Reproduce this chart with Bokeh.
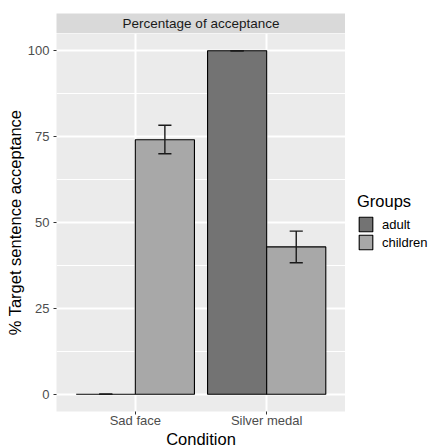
from bokeh.plotting import figure
from bokeh.models import Range1d, FixedTicker, ColumnDataSource, Legend, LegendItem, Label
from bokeh.layouts import column, row
from bokeh.embed import file_html
from bokeh.resources import INLINE

# ---- data ----
categories = ["Sad face", "Silver medal"]
groups = ["adult", "children"]
adult_mean = [0.0, 100.0]
adult_lower = [0.0, 100.0]
adult_upper = [0.0, 100.0]
children_mean = [74.1, 42.9]
children_lower = [70.0, 38.3]
children_upper = [78.3, 47.5]
y_ticks = [0, 25, 50, 75, 100]
y_minor = [12.5, 37.5, 62.5, 87.5]
group_colors = ["#737373", "#A8A8A8"]

# ---- style / layout ----
FONT = "Liberation Sans"
LEFT = 56
PANEL_W = 289
COL_W = LEFT + PANEL_W
LEG_W = 430 - COL_W
STRIP_TOP = 13
STRIP_H = 20
FRAME_H = 379
MAIN_BOTTOM = 18
COND_H = 17
TOTAL_H = STRIP_TOP + STRIP_H + FRAME_H + MAIN_BOTTOM + COND_H
DODGE = 0.225
BAR_W = 0.45
CAP = 0.05

x_range = Range1d(0.4, 2.6)
y_range = Range1d(-5, 105)

p = figure(width=COL_W, height=FRAME_H + MAIN_BOTTOM, x_range=x_range, y_range=y_range,
           output_backend="svg", toolbar_location=None,
           min_border_left=LEFT, min_border_right=0,
           min_border_top=0, min_border_bottom=MAIN_BOTTOM)
p.background_fill_color = "#EBEBEB"
p.border_fill_color = "white"
p.outline_line_color = None

cat_pos = [i + 1 for i in range(len(categories))]
p.xaxis.ticker = FixedTicker(ticks=cat_pos)
p.xaxis.major_label_overrides = {pos: c for pos, c in zip(cat_pos, categories)}
p.yaxis.ticker = FixedTicker(ticks=y_ticks, minor_ticks=y_minor)
p.xgrid.ticker = FixedTicker(ticks=cat_pos)
p.ygrid.ticker = FixedTicker(ticks=y_ticks, minor_ticks=y_minor)

p.grid.grid_line_color = "white"
p.grid.grid_line_width = 2
p.ygrid.minor_grid_line_color = "white"
p.ygrid.minor_grid_line_width = 1

for ax in (p.xaxis[0], p.yaxis[0]):
    ax.axis_line_color = None
    ax.major_tick_line_color = "#333333"
    ax.major_tick_line_width = 1
    ax.major_tick_in = 0
    ax.major_tick_out = 3
    ax.minor_tick_line_color = None
    ax.major_label_text_font = FONT
    ax.major_label_text_font_size = "13px"
    ax.major_label_text_color = "#4D4D4D"
    ax.axis_label_text_font = FONT
    ax.axis_label_text_font_size = "16.5px"
    ax.axis_label_text_font_style = "normal"
    ax.axis_label_text_color = "black"

p.xaxis.major_label_standoff = -2
p.yaxis.axis_label = "% Target sentence acceptance"
p.yaxis.major_label_standoff = 3
p.yaxis.axis_label_standoff = 1

series = [
    (adult_mean, adult_lower, adult_upper, -DODGE),
    (children_mean, children_lower, children_upper, DODGE),
]
sources = []
for (mean, lo, hi, off), col in zip(series, group_colors):
    xs = [c + off for c in cat_pos]
    src = ColumnDataSource(dict(x=xs, top=mean, lo=lo, hi=hi,
                                c0=[x - CAP for x in xs], c1=[x + CAP for x in xs]))
    sources.append(src)
    p.vbar(x="x", top="top", bottom=0, width=BAR_W, fill_color=col,
           line_color="black", line_width=1.1, source=src)

for src in sources:
    p.segment(x0="x", x1="x", y0="lo", y1="hi", line_color="#1A1A1A", line_width=1.4, source=src)
    p.segment(x0="c0", x1="c1", y0="hi", y1="hi", line_color="#1A1A1A", line_width=1.4, source=src)
    p.segment(x0="c0", x1="c1", y0="lo", y1="lo", line_color="#1A1A1A", line_width=1.4, source=src)

# ---- facet strip ----
s = figure(width=COL_W, height=STRIP_TOP + STRIP_H, x_range=x_range, y_range=Range1d(0, 1),
           output_backend="svg", toolbar_location=None,
           min_border_left=LEFT, min_border_right=0,
           min_border_top=STRIP_TOP, min_border_bottom=0,
           x_axis_type=None, y_axis_type=None)
s.background_fill_color = "#D9D9D9"
s.border_fill_color = "white"
s.outline_line_color = None
s.grid.visible = False
s.add_layout(Label(x=(x_range.start + x_range.end) / 2, y=0.5,
                   text="Percentage of acceptance", text_align="center",
                   text_baseline="middle", text_font=FONT, text_font_size="13.5px",
                   text_color="#1A1A1A"))

# ---- x-axis title ----
c = figure(width=COL_W, height=COND_H, x_range=x_range, y_range=Range1d(0, COND_H),
           output_backend="svg", toolbar_location=None,
           min_border_left=LEFT, min_border_right=0,
           min_border_top=0, min_border_bottom=0,
           x_axis_type=None, y_axis_type=None)
c.background_fill_color = "white"
c.border_fill_color = "white"
c.outline_line_color = None
c.grid.visible = False
c.add_layout(Label(x=(x_range.start + x_range.end) / 2, y=0,
                   text="Condition", text_align="center",
                   text_baseline="bottom", text_font=FONT, text_font_size="16.5px",
                   text_color="black"))

# ---- legend (key glyphs are zero-size, only their styles are used) ----
lf = figure(width=LEG_W, height=TOTAL_H, x_range=Range1d(0, 1), y_range=Range1d(0, 1),
            output_backend="svg", toolbar_location=None,
            min_border_left=0, min_border_right=0, min_border_top=0, min_border_bottom=0,
            x_axis_type=None, y_axis_type=None)
lf.background_fill_color = "white"
lf.border_fill_color = "white"
lf.outline_line_color = None
lf.grid.visible = False
key_renderers = []
for col in group_colors:
    ksrc = ColumnDataSource(dict(x=[0.5], top=[0.0], bottom=[0.0]))
    kr = lf.vbar(x="x", top="top", bottom="bottom", width=0, fill_color=col,
                 line_color="black", line_width=1.1, source=ksrc)
    key_renderers.append(kr)
legend = Legend(
    items=[LegendItem(label=g, renderers=[r]) for g, r in zip(groups, key_renderers)],
    location=(12, 196), title="Groups",
    title_text_font=FONT, title_text_font_size="16.5px", title_text_color="black",
    title_text_font_style="normal", title_standoff=4,
    label_text_font=FONT, label_text_font_size="13px", label_text_color="black",
    glyph_width=17, glyph_height=18, label_height=18, spacing=-3,
    label_standoff=8, padding=0, margin=0,
    border_line_color=None, background_fill_alpha=0,
)
lf.add_layout(legend, "center")

layout = row(column(s, p, c, spacing=0), lf, spacing=0)
open("out.html", "w").write(file_html(layout, INLINE))
